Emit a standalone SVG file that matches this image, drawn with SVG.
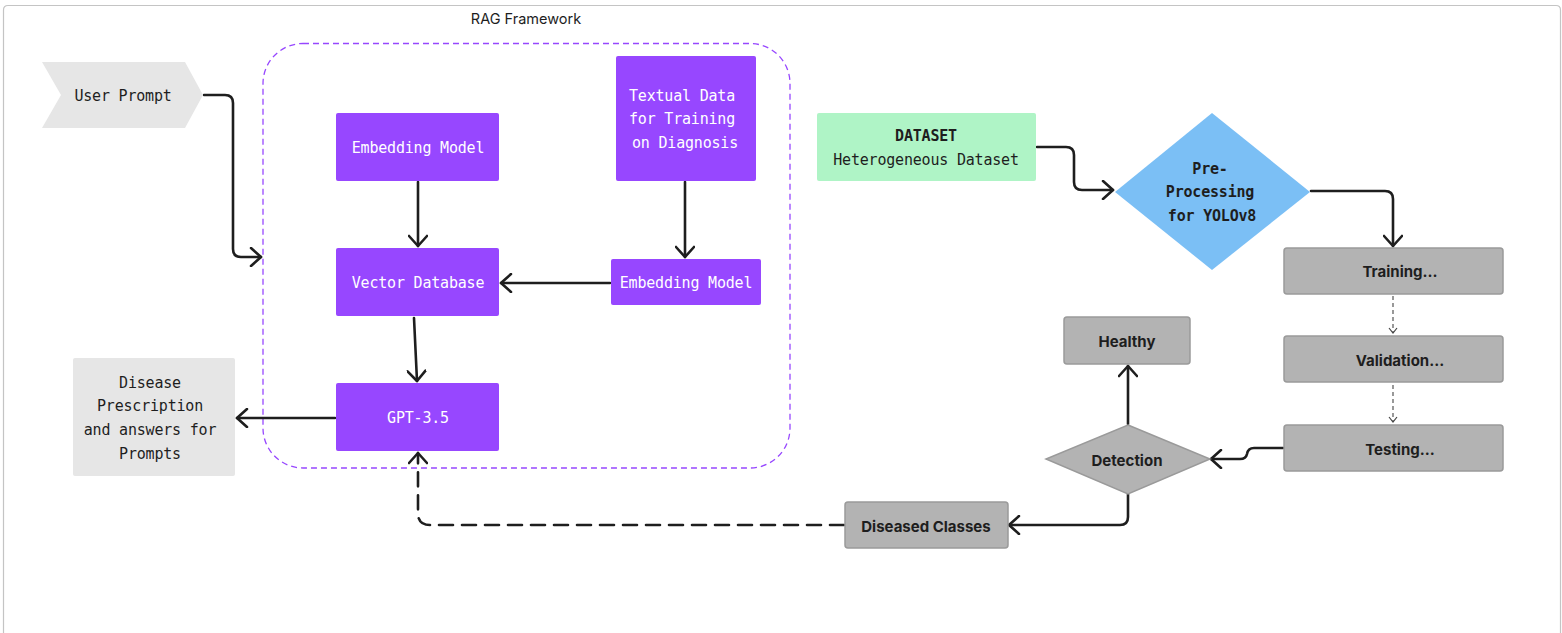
<svg xmlns="http://www.w3.org/2000/svg" width="1562" height="633" viewBox="0 0 1562 633">
<defs>
<marker id="ah" viewBox="0 0 20 20" refX="18" refY="10" markerWidth="20" markerHeight="20" markerUnits="userSpaceOnUse" orient="auto">
<path d="M8 1 L18 10 L8 19" fill="none" stroke="#1e1e1e" stroke-width="2.6" stroke-linecap="round" stroke-linejoin="round"/>
</marker>
<marker id="ahs" viewBox="0 0 10 10" refX="9" refY="5" markerWidth="10" markerHeight="10" markerUnits="userSpaceOnUse" orient="auto">
<path d="M4 1 L9 5 L4 9" fill="none" stroke="#444" stroke-width="1.2"/>
</marker>
<style>
.mono{font-family:"DejaVu Sans Mono","Liberation Mono",monospace;font-size:15px;letter-spacing:-0.2px;text-anchor:middle;dominant-baseline:central}
.w{fill:#ffffff}
.d{fill:#1e1e1e}
.b{font-weight:bold}
.sans{font-family:Inter,"Liberation Sans",sans-serif;font-size:15px;font-weight:bold;fill:#1e1e1e;text-anchor:middle;dominant-baseline:central}
.purple{fill:#9747ff}
.grey{fill:#b3b3b3;stroke:#9a9a9a;stroke-width:1.5}
.light{fill:#e6e6e6}
.conn{fill:none;stroke:#1e1e1e;stroke-width:2.6;stroke-linecap:round;stroke-linejoin:round}
</style>
</defs>
<rect width="1562" height="633" fill="#ffffff"/>
<path d="M3.5 640 L3.5 10 Q3.5 5.5 8 5.5 L1556 5.5 Q1560.5 5.5 1560.5 10 L1560.5 640" fill="none" stroke="#c4c4c4" stroke-width="1.2"/>

<g id="rag-frame">
<rect x="263" y="43.5" width="527" height="424.5" rx="40" fill="none" stroke="#9747ff" stroke-width="1.3" stroke-dasharray="6 4"/>
<text x="526" y="18" font-family="Inter,'Liberation Sans',sans-serif" font-size="14.5" fill="#1e1e1e" text-anchor="middle" dominant-baseline="central">RAG Framework</text>
</g>

<g id="connectors">
<path class="conn" d="M204 95 L225 95 Q233 95 233 103 L233 249 Q233 257 241 257 L261 257" marker-end="url(#ah)"/>
<path class="conn" d="M418 182 L418 246" marker-end="url(#ah)"/>
<path class="conn" d="M685 182 L685 257" marker-end="url(#ah)"/>
<path class="conn" d="M610 283 L501 283" marker-end="url(#ah)"/>
<path class="conn" d="M414 318 L417 381" marker-end="url(#ah)"/>
<path class="conn" d="M335 418 L237 418" marker-end="url(#ah)"/>
<path class="conn" d="M844 525 L430 525 Q418 525 418 513 L418 453" stroke-dasharray="14 9" marker-end="url(#ah)"/>
<path class="conn" d="M1037 147 L1066 147 Q1074 147 1074 155 L1074 182 Q1074 190 1082 190 L1113 190" marker-end="url(#ah)"/>
<path class="conn" d="M1311 191 L1385 191 Q1393 191 1393 199 L1393 246" marker-end="url(#ah)"/>
<path d="M1393 296 L1393 333" fill="none" stroke="#555" stroke-width="1.2" stroke-dasharray="4 3" marker-end="url(#ahs)"/>
<path d="M1393 385 L1393 422" fill="none" stroke="#555" stroke-width="1.2" stroke-dasharray="4 3" marker-end="url(#ahs)"/>
<path class="conn" d="M1283 448 L1254 448 Q1248 448 1247 454 Q1246 459 1240 459 L1211 459" marker-end="url(#ah)"/>
<path class="conn" d="M1128 424 L1128 366" marker-end="url(#ah)"/>
<path class="conn" d="M1128 494 L1128 517 Q1128 525 1120 525 L1009 525" marker-end="url(#ah)"/>
</g>

<g id="user-prompt">
<path class="light" d="M42 62 L185 62 L203 95 L185 128 L42 128 L61 95 Z"/>
<text class="mono d" x="123" y="96">User Prompt</text>
</g>

<g id="embedding-model-top">
<rect class="purple" x="336" y="113" width="163" height="68" rx="2"/>
<text class="mono w" x="418" y="148">Embedding Model</text>
</g>

<g id="textual-data">
<rect class="purple" x="616" y="56" width="140" height="125" rx="2"/>
<text class="mono w" x="682" y="96">Textual Data</text>
<text class="mono w" x="682" y="119">for Training</text>
<text class="mono w" x="685" y="143">on Diagnosis</text>
</g>

<g id="vector-database">
<rect class="purple" x="336" y="248" width="163" height="68" rx="2"/>
<text class="mono w" x="418" y="283">Vector Database</text>
</g>

<g id="embedding-model-right">
<rect class="purple" x="611" y="259" width="150" height="46" rx="2"/>
<text class="mono w" x="686" y="283">Embedding Model</text>
</g>

<g id="gpt">
<rect class="purple" x="336" y="383" width="163" height="68" rx="2"/>
<text class="mono w" x="418" y="418">GPT-3.5</text>
</g>

<g id="disease-prescription">
<rect class="light" x="73" y="358" width="162" height="118" rx="2"/>
<text class="mono d" x="150" y="383">Disease</text>
<text class="mono d" x="150" y="406">Prescription</text>
<text class="mono d" x="150" y="430">and answers for</text>
<text class="mono d" x="150" y="454">Prompts</text>
</g>

<g id="dataset">
<rect x="817" y="113" width="219" height="68" rx="2" fill="#aff4c6"/>
<text class="mono d b" x="926" y="136">DATASET</text>
<text class="mono d" x="926" y="160">Heterogeneous Dataset</text>
</g>

<g id="preprocessing">
<path d="M1212 113 L1310 192 L1212 270 L1115 192 Z" fill="#7bbff5"/>
<text class="mono d b" x="1210" y="169">Pre-</text>
<text class="mono d b" x="1210" y="192">Processing</text>
<text class="mono d b" x="1212" y="216">for YOLOv8</text>
</g>

<g id="training">
<rect class="grey" x="1284" y="248" width="219" height="46" rx="3"/>
<text class="sans" x="1400" y="271">Training...</text>
</g>

<g id="validation">
<rect class="grey" x="1284" y="336" width="219" height="46" rx="3"/>
<text class="sans" x="1400" y="360">Validation...</text>
</g>

<g id="testing">
<rect class="grey" x="1284" y="425" width="219" height="46" rx="3"/>
<text class="sans" x="1400" y="449">Testing...</text>
</g>

<g id="healthy">
<rect class="grey" x="1064" y="317" width="126" height="47" rx="3"/>
<text class="sans" x="1127" y="341">Healthy</text>
</g>

<g id="detection">
<path class="grey" d="M1128 425 L1210 459 L1128 494 L1046 459 Z"/>
<text class="sans" x="1127" y="460">Detection</text>
</g>

<g id="diseased-classes">
<rect class="grey" x="845" y="502" width="163" height="46" rx="3"/>
<text class="sans" x="926" y="526">Diseased Classes</text>
</g>
</svg>
